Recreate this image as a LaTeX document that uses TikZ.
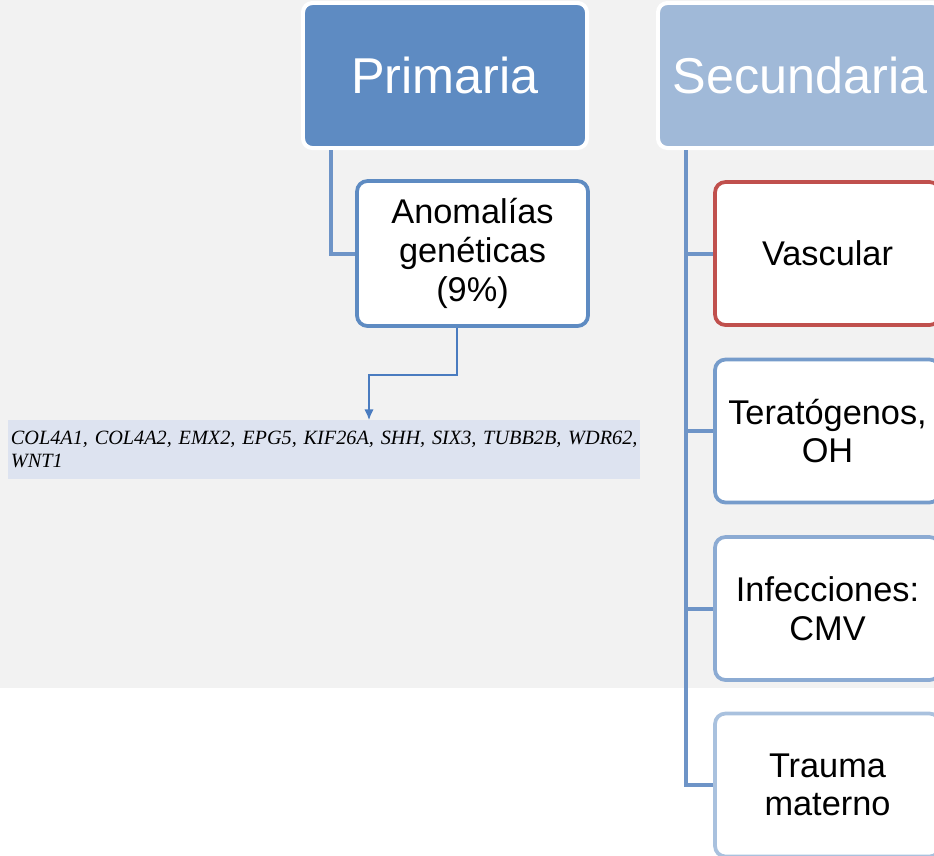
\documentclass[tikz,border=0pt]{standalone}
\usepackage{fontspec}
\setmainfont{Liberation Sans}
\newfontfamily\genefont{Liberation Serif}
\usetikzlibrary{arrows.meta}
\definecolor{bggray}{RGB}{242,242,242}
\definecolor{primfill}{RGB}{94,139,194}
\definecolor{secfill}{RGB}{160,185,216}
\definecolor{linkblue}{RGB}{110,148,199}
\definecolor{arrowblue}{RGB}{74,124,192}
\definecolor{vascred}{RGB}{192,80,77}
\definecolor{teraborder}{RGB}{118,156,203}
\definecolor{infborder}{RGB}{140,171,211}
\definecolor{traumaborder}{RGB}{169,193,222}
\definecolor{genefill}{RGB}{221,227,240}

\begin{document}
\begin{tikzpicture}[x=0.03cm,y=-0.03cm,
  headbox/.style={rounded corners=8pt, draw=white, line width=3.4pt,
    minimum width=8.52cm, minimum height=4.35cm, text=white,
    font=\fontsize{43}{48}\selectfont},
  itembox/.style={rounded corners=9pt, fill=white, line width=3.2pt,
    minimum width=6.75cm, minimum height=4.29cm, align=center,
    font=\fontsize{29.3}{33}\selectfont},
  link/.style={linkblue, line width=3.4pt},
  genarrow/.style={arrowblue, line width=1.2pt, -{Latex[length=9pt,width=8pt]}}]
 	\useasboundingbox (0,0) rectangle (934,855);
 	\clip (0,0) rectangle (934,855);
 	\fill [bggray] (0,0) rectangle (934,688);
 	% cabeceras
 	\node [headbox, fill=primfill] (prim) at (445,75.5) {Primaria};
 	\node [headbox, fill=secfill] (sec) at (800,75.5) {Secundaria};
 	% rama primaria
 	\node [itembox, draw=primfill, minimum width=6.93cm, minimum height=4.35cm] (anom) at (472.5,253.5) {Anomalías\\genéticas\\(9\%)};
 	\node [anchor=north west, fill=genefill, minimum width=18.96cm, minimum height=1.75cm,
 	  text width=18.8cm, align=left, inner xsep=1pt, inner ysep=4pt,
 	  font=\genefont\itshape\fontsize{17.3}{19}\selectfont] (genes) at (8,420)
 	  {COL4A1, COL4A2, EMX2, EPG5, KIF26A, SHH, SIX3, TUBB2B, WDR62, WNT1};
 	\draw [link] (prim.south -| 331,0) |- (anom.west);
 	\draw [genarrow] (anom.south -| 457,0) |- (413,375) -| (genes.north -| 369,0);
 	% rama secundaria
 	\node [itembox, draw=vascred] (vasc) at (827.5,253.5) {Vascular};
 	\node [itembox, draw=teraborder] (tera) at (827.5,431) {Teratógenos,\\OH};
 	\node [itembox, draw=infborder] (inf) at (827.5,608.5) {Infecciones:\\CMV};
 	\node [itembox, draw=traumaborder] (trauma) at (827.5,785) {Trauma\\materno};
 	\draw [link] (sec.south -| 686,0) |- (trauma.west);
 	\foreach \b in {vasc,tera,inf}
 	  \draw [link] (686,0 |- \b.west) -- (\b.west);
\end{tikzpicture}
\end{document}
